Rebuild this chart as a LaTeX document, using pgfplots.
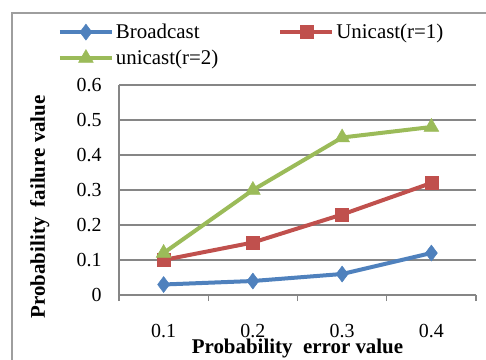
\documentclass[border=0pt]{standalone}
\usepackage{pgfplots}
\pgfplotsset{compat=1.18}
\usepackage{fontspec}
\setmainfont{Liberation Serif}
\definecolor{cBlue}{HTML}{4F81BD}
\definecolor{cRed}{HTML}{C0504D}
\definecolor{cGreen}{HTML}{9BBB59}
\definecolor{cGrid}{HTML}{868686}
\begin{document}
\begin{tikzpicture}
\useasboundingbox (0,0) rectangle (486bp,-360bp);
\draw[cGrid!80, line width=1.5bp] (12bp,-360bp) -- (12bp,-13bp) -- (486bp,-13bp);
\begin{axis}[
  at={(119bp,-295bp)}, anchor=south west,
  scale only axis, width=357bp, height=210bp,
  xmin=0.5, xmax=4.5, ymin=0, ymax=0.6,
  axis x line*=bottom, axis y line*=left,
  axis line style={cGrid, line width=1.2bp, -},
  xtick={1,2,3,4}, xticklabels={0.1,0.2,0.3,0.4},
  extra x ticks={0.5,1.5,2.5,3.5,4.5}, extra x tick labels={},
  extra x tick style={major tick length=6bp, tick style={cGrid, line width=1.2bp}, tickpos=left, tick align=outside},
  ytick={0,0.1,0.2,0.3,0.4,0.5,0.6},
  yticklabels={0,0.1,0.2,0.3,0.4,0.5,0.6},
  major tick length=0bp,
  y tick style={cGrid, line width=1.2bp},
  ymajorgrids, grid style={cGrid, line width=1.2bp},
  tick label style={font=\fontsize{20}{24}\selectfont, black},
  xticklabel style={yshift=-26bp},
  yticklabel style={xshift=-14bp},
  xlabel={\textbf{Probability\ \ error value}},
  ylabel={\textbf{Probability\ \ failure value}},
  label style={font=\fontsize{21}{24}\selectfont},
  xlabel style={at={(axis description cs:0.5,0)}, anchor=center, yshift=-53bp},
  ylabel style={at={(axis description cs:-0.222,0.42)}, anchor=center},
  legend columns=2,
  legend style={at={(-0.18,1.31)}, anchor=north west, draw=none, fill=none,
    font=\fontsize{21}{24}\selectfont, row sep=6bp,
    /tikz/every even column/.append style={column sep=58bp}},
  legend cell align=left,
  legend image code/.code={
    \draw[#1, mark repeat=2, mark phase=2] plot coordinates {(0bp,0bp) (26bp,0bp) (52bp,0bp)};
  },
  every axis plot/.append style={line width=4bp},
  clip=false,
]
\addplot[cBlue, mark=diamond*, mark size=8bp, mark options={solid, fill=cBlue, line width=0.5bp}] coordinates {(1,0.03) (2,0.04) (3,0.06) (4,0.12)};
\addlegendentry{Broadcast}
\addplot[cRed, mark=square*, mark size=6.5bp, mark options={solid, fill=cRed, line width=0.5bp}] coordinates {(1,0.10) (2,0.15) (3,0.23) (4,0.32)};
\addlegendentry{Unicast(r=1)}
\addplot[cGreen, mark=triangle*, mark size=8.5bp, mark options={solid, fill=cGreen, line width=0.5bp}] coordinates {(1,0.12) (2,0.30) (3,0.45) (4,0.48)};
\addlegendentry{unicast(r=2)}
\end{axis}
\end{tikzpicture}
\end{document}
